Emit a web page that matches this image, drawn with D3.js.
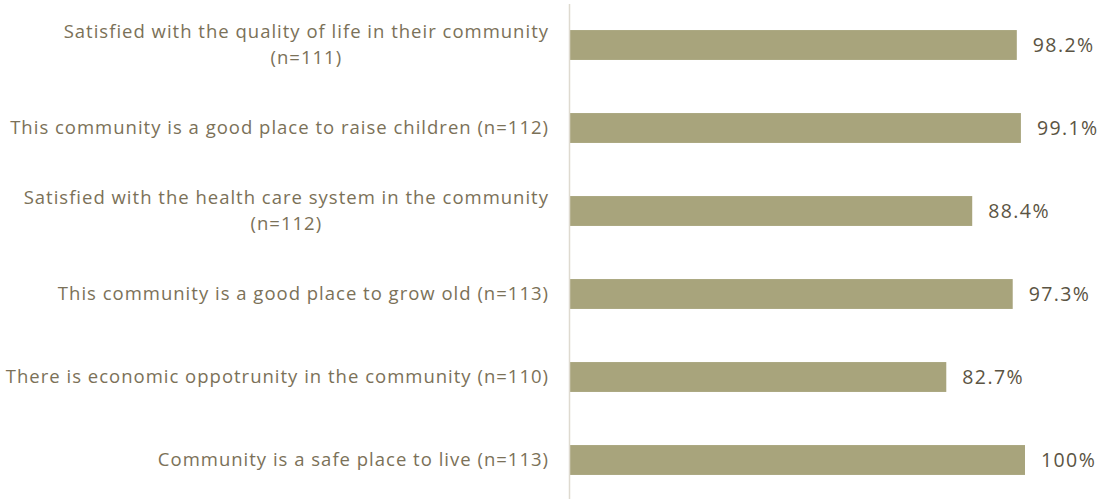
<!DOCTYPE html>
<html>
<head>
<meta charset="utf-8">
<script src="https://cdn.jsdelivr.net/npm/d3@7"></script>
<style>
  html, body { margin: 0; padding: 0; background: #ffffff; }
  svg { display: block; }
  .cat { font-family: "Open Sans", sans-serif; font-size: 18.5px; letter-spacing: 1px; fill: #7b7158; }
  .val { font-family: "Open Sans", sans-serif; font-size: 19.5px; letter-spacing: 1.4px; fill: #5b5443; }
</style>
</head>
<body>
<svg id="chart" width="1107" height="499"></svg>
<script>
// Survey items (top to bottom) and the share agreeing, in percent
const categories = [
  ["Satisfied with the quality of life in their community", "(n=111)"],
  ["This community is a good place to raise children (n=112)"],
  ["Satisfied with the health care system in the community", "(n=112)"],
  ["This community is a good place to grow old (n=113)"],
  ["There is economic oppotrunity in the community (n=110)"],
  ["Community is a safe place to live (n=113)"]
];
const values = [98.2, 99.1, 88.4, 97.3, 82.7, 100];
const valueLabels = ["98.2%", "99.1%", "88.4%", "97.3%", "82.7%", "100%"];

const svg = d3.select("#chart");
const W = 1107, H = 499;
const axisX = 569.5;
const labelRight = 549;

const keys = categories.map((c, i) => i);

const x = d3.scaleLinear().domain([0, 100]).range([axisX + 0.5, 1025]);
const y = d3.scaleBand()
  .domain(keys)
  .range([3.5, 501.5])
  .paddingInner(0.64)
  .paddingOuter(0.32);

// Bars
svg.append("g")
  .selectAll("rect")
  .data(values)
  .join("rect")
  .attr("x", x(0))
  .attr("y", (d, i) => y(i))
  .attr("width", d => x(d) - x(0))
  .attr("height", y.bandwidth())
  .attr("fill", "#a8a47c");

// Vertical category axis line
const axis = d3.axisLeft(y).tickSize(0).tickFormat("");
const ag = svg.append("g").attr("transform", `translate(${axisX},0)`).call(axis);
ag.select(".domain").attr("d", `M0,4V${H}`).attr("stroke", "#dedad0").attr("stroke-width", 1.5);

// Category labels: right edge aligned, wrapped lines centred on each other
const lineH = 26;
const catG = svg.append("g");
categories.forEach((lines, i) => {
  const cy = y(i) + y.bandwidth() / 2;
  const t = catG.append("text").attr("class", "cat").attr("text-anchor", "middle");
  const spans = lines.map((ln, k) =>
    t.append("tspan")
      .attr("y", cy + (k - (lines.length - 1) / 2) * lineH)
      .attr("dy", "0.35em")
      .text(ln)
  );
  const maxW = d3.max(spans, s => s.node().getComputedTextLength());
  spans.forEach(s => s.attr("x", labelRight - maxW / 2));
});

// Value labels
svg.append("g")
  .selectAll("text")
  .data(values)
  .join("text")
  .attr("class", "val")
  .attr("x", d => x(d) + 16)
  .attr("y", (d, i) => y(i) + y.bandwidth() / 2)
  .attr("dy", "0.35em")
  .text((d, i) => valueLabels[i]);
</script>
</body>
</html>
